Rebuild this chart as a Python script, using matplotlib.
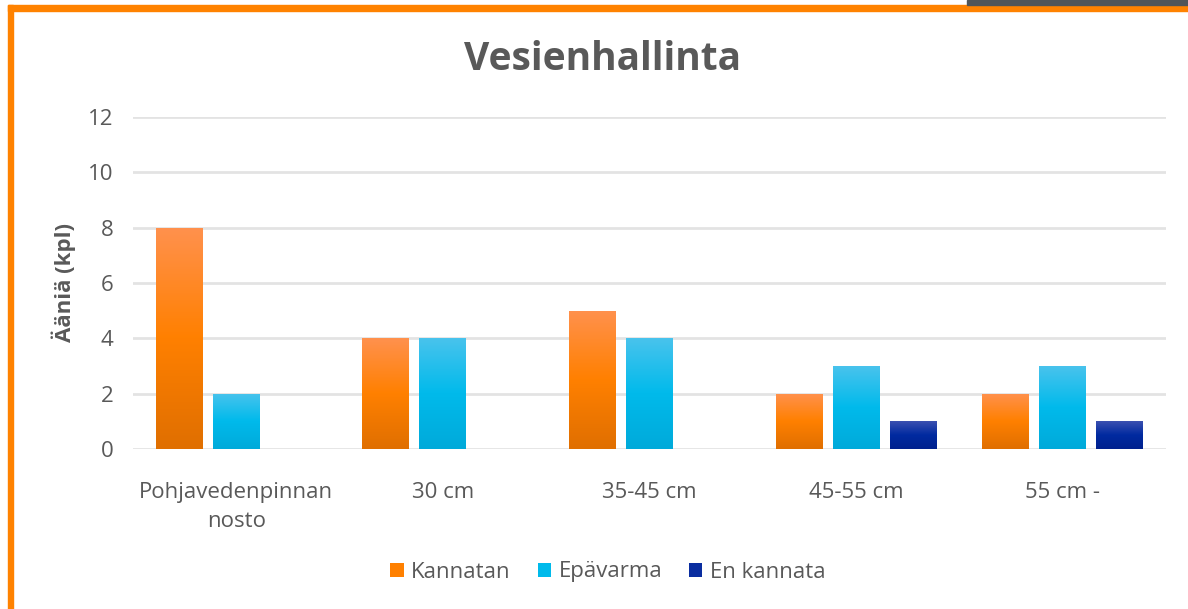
import numpy as np
import matplotlib.pyplot as plt
from matplotlib.colors import LinearSegmentedColormap
from matplotlib.patches import Rectangle

plt.rcParams['font.family'] = ['Open Sans', 'DejaVu Sans']

categories = ['Pohjavedenpinnan\nnosto', '30 cm', '35-45 cm', '45-55 cm', '55 cm -']
series = ['Kannatan', 'Epävarma', 'En kannata']
kannatan = [8, 4, 5, 2, 2]
epavarma = [2, 4, 4, 3, 3]
en_kannata = [0, 0, 0, 1, 1]
values = [kannatan, epavarma, en_kannata]

# top, middle, bottom of each gradient
grads = [('#FF914D', '#FF8000', '#E06F00'),
         ('#48C3ED', '#00BAEB', '#00AADA'),
         ('#3B50B0', '#002AA0', '#00218E')]
solid = ['#FF8000', '#00BAEB', '#0A2DA0']

text_col = '#595959'

fig = plt.figure(figsize=(11.88, 6.09), dpi=100)
ax = fig.add_axes([133/1188, 1-449/609, (1166-133)/1188, (449-117)/609])

w = 47/206.6
step = 57/206.6
x = np.arange(len(categories))
for i, (vals, g) in enumerate(zip(values, grads)):
    cmap = LinearSegmentedColormap.from_list('g%d' % i, [g[2], g[1], g[0]])
    offs = (i - 1) * step
    bars = ax.bar(x + offs, vals, width=w, color='none', edgecolor='none', zorder=3)
    for b, v in zip(bars, vals):
        if v <= 0:
            continue
        x0 = b.get_x()
        im = ax.imshow(np.linspace(0, 1, 100).reshape(-1, 1), cmap=cmap, origin='lower',
                       extent=[x0, x0 + w, 0, v], aspect='auto', zorder=3)
        im.set_clip_path(b)

ax.set_xlim(-0.5, len(categories) - 0.5)
ax.set_ylim(0, 12)
ax.set_yticks(range(0, 13, 2))
ax.set_xticks(x)
ax.set_xticklabels(categories)
ax.grid(axis='y', color='#E3E3E3', linewidth=2, zorder=0)
for s in ax.spines.values():
    s.set_visible(False)
ax.tick_params(length=0, labelsize=16, colors=text_col)
ax.tick_params(axis='y', pad=14)
ax.tick_params(axis='x', pad=24)
for lab in ax.get_xticklabels():
    lab.set_linespacing(1.45)
ax.set_ylabel('Ääniä (kpl)', fontsize=16, fontweight='bold',
              color=text_col, labelpad=9)

fig.text(603/1188, 1-60/609, 'Vesienhallinta', ha='center', va='center',
         fontsize=28, fontweight='bold', color=text_col)

handles = [Rectangle((0, 0), 1, 1, fc=c) for c in solid]
fig.legend(handles, series, loc='center', bbox_to_anchor=(608/1188, 1-572/609),
           ncol=3, frameon=False, fontsize=16, handlelength=0.6, handleheight=0.6,
           handletextpad=0.35, columnspacing=1.2, labelcolor=text_col)

# frame decoration
fig.add_artist(Rectangle((8/1188, 0), 5/1188, 1 - 5/609, transform=fig.transFigure,
                         color='#FF8200', zorder=5))
fig.add_artist(Rectangle((8/1188, 1 - 11/609), 1 - 8/1188, 6/609, transform=fig.transFigure,
                         color='#FF8200', zorder=5))
fig.add_artist(Rectangle((967/1188, 1 - 5/609), 1 - 967/1188, 5/609, transform=fig.transFigure,
                         color='#505559', zorder=5))

fig.savefig('out.png', dpi=100)
